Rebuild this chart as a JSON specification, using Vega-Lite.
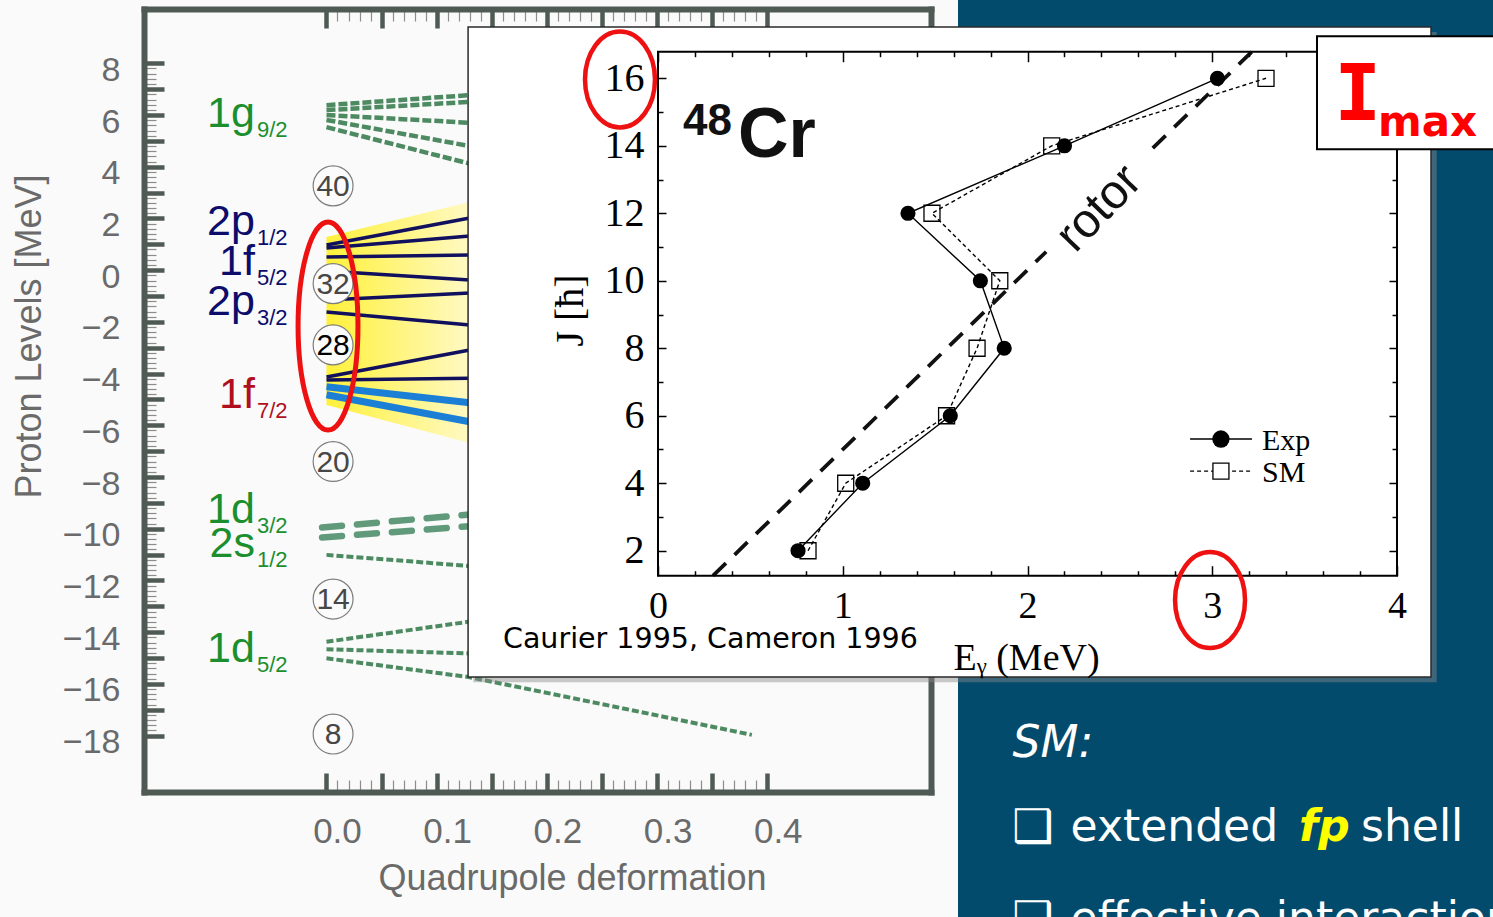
{
  "$schema": "https://vega.github.io/schema/vega-lite/v6.json",
  "width": 1493,
  "height": 917,
  "autosize": {"type": "none"},
  "padding": 0,
  "background": "#fafafa",
  "config": {
    "view": {"stroke": null},
    "axis": {"grid": false, "labelOverlap": false, "labelFlush": false}
  },
  "datasets": {
    "band": [
      {"def": 0, "lo": -5.21, "hi": 1.28},
      {"def": 0.13, "lo": -6.68, "hi": 2.64}
    ],
    "levels": [
      {"group": "g", "line": "g1", "def": 0, "E": 6.38}, {"group": "g", "line": "g1", "def": 0.13, "E": 6.77},
      {"group": "g", "line": "g2", "def": 0, "E": 6.19}, {"group": "g", "line": "g2", "def": 0.13, "E": 6.51},
      {"group": "g", "line": "g3", "def": 0, "E": 6.0}, {"group": "g", "line": "g3", "def": 0.13, "E": 5.7},
      {"group": "g", "line": "g4", "def": 0, "E": 5.81}, {"group": "g", "line": "g4", "def": 0.13, "E": 4.8},
      {"group": "g", "line": "g5", "def": 0, "E": 5.53}, {"group": "g", "line": "g5", "def": 0.13, "E": 4.12},
      {"group": "fp", "line": "n1", "def": 0, "E": 0.97}, {"group": "fp", "line": "n1", "def": 0.13, "E": 2.02},
      {"group": "fp", "line": "n2", "def": 0, "E": 0.86}, {"group": "fp", "line": "n2", "def": 0.13, "E": 1.32},
      {"group": "fp", "line": "n3", "def": 0, "E": 0.51}, {"group": "fp", "line": "n3", "def": 0.13, "E": 0.59},
      {"group": "fp", "line": "n4", "def": 0, "E": -0.03}, {"group": "fp", "line": "n4", "def": 0.13, "E": -0.38},
      {"group": "fp", "line": "n5", "def": 0, "E": -1.15}, {"group": "fp", "line": "n5", "def": 0.13, "E": -0.88},
      {"group": "fp", "line": "n6", "def": 0, "E": -1.62}, {"group": "fp", "line": "n6", "def": 0.13, "E": -2.12},
      {"group": "fp", "line": "n7", "def": 0, "E": -4.13}, {"group": "fp", "line": "n7", "def": 0.13, "E": -3.09},
      {"group": "fp", "line": "n8", "def": 0, "E": -4.25}, {"group": "fp", "line": "n8", "def": 0.13, "E": -4.18},
      {"group": "f7", "line": "b1", "def": 0, "E": -4.51}, {"group": "f7", "line": "b1", "def": 0.13, "E": -5.13},
      {"group": "f7", "line": "b2", "def": 0, "E": -4.82}, {"group": "f7", "line": "b2", "def": 0.13, "E": -5.86},
      {"group": "sdw", "line": "w1", "def": -0.004, "E": -9.95}, {"group": "sdw", "line": "w1", "def": 0.13, "E": -9.45},
      {"group": "sdw", "line": "w2", "def": -0.004, "E": -10.34}, {"group": "sdw", "line": "w2", "def": 0.13, "E": -9.9},
      {"group": "sd", "line": "d1", "def": 0, "E": -11.01}, {"group": "sd", "line": "d1", "def": 0.13, "E": -11.44},
      {"group": "sd", "line": "d2", "def": 0, "E": -14.37}, {"group": "sd", "line": "d2", "def": 0.13, "E": -13.59},
      {"group": "sd", "line": "d3", "def": 0, "E": -14.66}, {"group": "sd", "line": "d3", "def": 0.13, "E": -14.82},
      {"group": "sd", "line": "d4", "def": 0, "E": -15.01}, {"group": "sd", "line": "d4", "def": 0.13, "E": -15.74},
      {"group": "sd", "line": "d4", "def": 0.25, "E": -16.78}, {"group": "sd", "line": "d4", "def": 0.386, "E": -17.97}
    ],
    "magic": [
      {"n": 40, "E": 3.26}, {"n": 32, "E": -0.52}, {"n": 28, "E": -2.89},
      {"n": 20, "E": -7.4}, {"n": 14, "E": -12.72}, {"n": 8, "E": -17.94}
    ],
    "labels": [
      {"orb": "1g", "sub": "9/2", "shell": "g", "E": 5.54},
      {"orb": "2p", "sub": "1/2", "shell": "fp", "E": 1.36},
      {"orb": "1f", "sub": "5/2", "shell": "fp", "E": -0.19},
      {"orb": "2p", "sub": "3/2", "shell": "fp", "E": -1.73},
      {"orb": "1f", "sub": "7/2", "shell": "f7", "E": -5.33},
      {"orb": "1d", "sub": "3/2", "shell": "sd", "E": -9.78},
      {"orb": "2s", "sub": "1/2", "shell": "sd", "E": -11.09},
      {"orb": "1d", "sub": "5/2", "shell": "sd", "E": -15.15}
    ],
    "cr48": [
      {"series": "Exp", "J": 2, "E": 0.758}, {"series": "Exp", "J": 4, "E": 1.108},
      {"series": "Exp", "J": 6, "E": 1.582}, {"series": "Exp", "J": 8, "E": 1.874},
      {"series": "Exp", "J": 10, "E": 1.745}, {"series": "Exp", "J": 12, "E": 1.353},
      {"series": "Exp", "J": 14, "E": 2.2}, {"series": "Exp", "J": 16, "E": 3.028},
      {"series": "SM", "J": 2, "E": 0.812}, {"series": "SM", "J": 4, "E": 1.016},
      {"series": "SM", "J": 6, "E": 1.562}, {"series": "SM", "J": 8, "E": 1.727},
      {"series": "SM", "J": 10, "E": 1.85}, {"series": "SM", "J": 12, "E": 1.483},
      {"series": "SM", "J": 14, "E": 2.131}, {"series": "SM", "J": 16, "E": 3.291}
    ],
    "rotor": [
      {"seg": "lower", "E": 0.298, "J": 1.26}, {"seg": "lower", "E": 2.101, "J": 10.86},
      {"seg": "upper", "E": 2.678, "J": 13.93}, {"seg": "upper", "E": 3.215, "J": 16.79}
    ]
  },
  "resolve": {"scale": {"x": "independent", "y": "independent"}, "axis": {"x": "independent", "y": "independent"}},
  "layer": [
    {
      "resolve": {"axis": {"x": "independent", "y": "independent"}},
      "layer": [
        {
          "data": {"name": "band"},
          "mark": {"type": "area", "color": {"gradient": "linear", "x1": 0, "x2": 1, "y1": 0, "y2": 0, "stops": [{"offset": 0, "color": "#fff13a"}, {"offset": 1, "color": "#fff9c4"}]}},
          "encoding": {
            "x": {"field": "def", "type": "quantitative",
              "scale": {"domain": [-0.1656, 0.5486], "range": [144, 931], "nice": false, "zero": false},
              "axis": {
                "orient": "bottom", "offset": -125, "zindex": 0,
                "values": [0,0.01,0.02,0.03,0.04,0.05,0.06,0.07,0.08,0.09,0.1,0.11,0.12,0.13,0.14,0.15,0.16,0.17,0.18,0.19,0.2,0.21,0.22,0.23,0.24,0.25,0.26,0.27,0.28,0.29,0.3,0.31,0.32,0.33,0.34,0.35,0.36,0.37,0.38,0.39,0.4],
                "domainColor": "#4f5a54", "domainWidth": 6, "domainCap": "square",
                "tickColor": {"condition": {"test": "round(datum.value*100) % 5 === 0", "value": "#4f5a54"}, "value": "#8c8c8c"},
                "tickSize": {"condition": {"test": "round(datum.value*100) % 5 === 0", "value": -19}, "value": -12},
                "tickWidth": {"condition": {"test": "round(datum.value*100) % 5 === 0", "value": 4.5}, "value": 1.2},
                "labelExpr": "round(datum.value*100) % 10 === 0 ? format(datum.value, '.1f') : ''",
                "labelFont": "Liberation Sans", "labelFontSize": 35, "labelColor": "#6a6a6a",
                "labelPadding": 41, "labelOffset": 10.5,
                "title": "Quadrupole deformation", "titleFont": "Liberation Sans", "titleFontSize": 36,
                "titleFontWeight": "normal", "titleColor": "#6a6a6a", "titleX": 572, "titleY": 97,
                "titleAlign": "center", "titleBaseline": "alphabetic"
              }
            },
            "y": {"field": "hi", "type": "quantitative",
              "scale": {"domain": [-20.18, 10.1], "range": [792, 9], "nice": false, "zero": false},
              "axis": {
                "orient": "left", "offset": -144, "zindex": 0,
                "values": [-18,-17.8,-17.6,-17.4,-17.2,-17,-16.8,-16.6,-16.4,-16.2,-16,-15.8,-15.6,-15.4,-15.2,-15,-14.8,-14.6,-14.4,-14.2,-14,-13.8,-13.6,-13.4,-13.2,-13,-12.8,-12.6,-12.4,-12.2,-12,-11.8,-11.6,-11.4,-11.2,-11,-10.8,-10.6,-10.4,-10.2,-10,-9.8,-9.6,-9.4,-9.2,-9,-8.8,-8.6,-8.4,-8.2,-8,-7.8,-7.6,-7.4,-7.2,-7,-6.8,-6.6,-6.4,-6.2,-6,-5.8,-5.6,-5.4,-5.2,-5,-4.8,-4.6,-4.4,-4.2,-4,-3.8,-3.6,-3.4,-3.2,-3,-2.8,-2.6,-2.4,-2.2,-2,-1.8,-1.6,-1.4,-1.2,-1,-0.8,-0.6,-0.4,-0.2,0,0.2,0.4,0.6,0.8,1,1.2,1.4,1.6,1.8,2,2.2,2.4,2.6,2.8,3,3.2,3.4,3.6,3.8,4,4.2,4.4,4.6,4.8,5,5.2,5.4,5.6,5.8,6,6.2,6.4,6.6,6.8,7,7.2,7.4,7.6,7.8,8],
                "domainColor": "#4f5a54", "domainWidth": 6, "domainCap": "square",
                "tickColor": {"condition": {"test": "datum.value % 1 === 0", "value": "#4f5a54"}, "value": "#8c8c8c"},
                "tickSize": {"condition": {"test": "datum.value % 1 === 0", "value": -20}, "value": -12},
                "tickWidth": {"condition": {"test": "datum.value % 1 === 0", "value": 4.5}, "value": 1.2},
                "labelExpr": "datum.value % 2 === 0 ? format(datum.value, 'd') : ''",
                "labelFont": "Liberation Sans", "labelFontSize": 34, "labelColor": "#6a6a6a",
                "labelPadding": 44, "labelOffset": 7,
                "title": "Proton Levels [MeV]", "titleFont": "Liberation Sans", "titleFontSize": 36,
                "titleFontWeight": "normal", "titleColor": "#6a6a6a", "titleAngle": 270,
                "titleX": -104, "titleY": 336, "titleAlign": "center", "titleBaseline": "alphabetic"
              }
            },
            "y2": {"field": "lo"}
          }
        },
        {
          "data": {"name": "levels"},
          "transform": [{"filter": "datum.group === 'g'"}],
          "mark": {"type": "line", "color": "#4d8a62", "strokeWidth": 4.5, "strokeDash": [9, 3]},
          "encoding": {
            "x": {"field": "def", "type": "quantitative",
              "axis": {
                "orient": "top", "offset": -9, "zindex": 0,
                "values": [0,0.01,0.02,0.03,0.04,0.05,0.06,0.07,0.08,0.09,0.1,0.11,0.12,0.13,0.14,0.15,0.16,0.17,0.18,0.19,0.2,0.21,0.22,0.23,0.24,0.25,0.26,0.27,0.28,0.29,0.3,0.31,0.32,0.33,0.34,0.35,0.36,0.37,0.38,0.39,0.4],
                "domainColor": "#4f5a54", "domainWidth": 6, "domainCap": "square",
                "tickColor": {"condition": {"test": "round(datum.value*100) % 5 === 0", "value": "#4f5a54"}, "value": "#8c8c8c"},
                "tickSize": {"condition": {"test": "round(datum.value*100) % 5 === 0", "value": -19}, "value": -12},
                "tickWidth": {"condition": {"test": "round(datum.value*100) % 5 === 0", "value": 4.5}, "value": 1.2},
                "labels": false, "title": null
              }
            },
            "y": {"field": "E", "type": "quantitative",
              "axis": {
                "orient": "right", "offset": -562, "zindex": 0,
                "ticks": false, "labels": false, "title": null,
                "domainColor": "#4f5a54", "domainWidth": 6, "domainCap": "square"
              }
            },
            "detail": {"field": "line"}
          }
        },
        {
          "data": {"name": "levels"},
          "transform": [{"filter": "datum.group === 'fp'"}],
          "mark": {"type": "line", "color": "#10105e", "strokeWidth": 3.5},
          "encoding": {
            "x": {"field": "def", "type": "quantitative", "axis": null},
            "y": {"field": "E", "type": "quantitative", "axis": null},
            "detail": {"field": "line"}
          }
        },
        {
          "data": {"name": "levels"},
          "transform": [{"filter": "datum.group === 'f7'"}],
          "mark": {"type": "line", "color": "#1c7fd6", "strokeWidth": 7},
          "encoding": {
            "x": {"field": "def", "type": "quantitative", "axis": null},
            "y": {"field": "E", "type": "quantitative", "axis": null},
            "detail": {"field": "line"}
          }
        },
        {
          "data": {"name": "levels"},
          "transform": [{"filter": "datum.group === 'sdw'"}],
          "mark": {"type": "line", "color": "#609a7a", "strokeWidth": 6.5, "strokeDash": [20, 15], "strokeCap": "round"},
          "encoding": {
            "x": {"field": "def", "type": "quantitative", "axis": null},
            "y": {"field": "E", "type": "quantitative", "axis": null},
            "detail": {"field": "line"}
          }
        },
        {
          "data": {"name": "levels"},
          "transform": [{"filter": "datum.group === 'sd'"}],
          "mark": {"type": "line", "color": "#4d8a62", "strokeWidth": 4, "strokeDash": [7, 3]},
          "encoding": {
            "x": {"field": "def", "type": "quantitative", "axis": null},
            "y": {"field": "E", "type": "quantitative", "axis": null},
            "detail": {"field": "line"}
          }
        },
        {
          "data": {"name": "magic"},
          "mark": {"type": "point", "shape": "circle", "filled": true, "fill": "#fbfbfb", "stroke": "#7d7d7d", "strokeWidth": 1.2, "size": 1590, "opacity": 1},
          "encoding": {
            "x": {"datum": 0.006, "type": "quantitative", "axis": null},
            "y": {"field": "E", "type": "quantitative", "axis": null}
          }
        },
        {
          "data": {"name": "magic"},
          "mark": {"type": "text", "font": "Liberation Sans", "fontSize": 30, "align": "center", "baseline": "middle", "dy": 1},
          "encoding": {
            "x": {"datum": 0.006, "type": "quantitative", "axis": null},
            "y": {"field": "E", "type": "quantitative", "axis": null},
            "text": {"field": "n"},
            "color": {"condition": {"test": "datum.n === 28", "value": "#000000"}, "value": "#474747"}
          }
        },
        {
          "data": {"name": "labels"},
          "mark": {"type": "text", "font": "Liberation Sans", "fontSize": 43, "align": "right", "baseline": "alphabetic"},
          "encoding": {
            "x": {"datum": -0.0649, "type": "quantitative", "axis": null},
            "y": {"field": "E", "type": "quantitative", "axis": null},
            "text": {"field": "orb"},
            "color": {"field": "shell", "type": "nominal", "legend": null,
              "scale": {"domain": ["g", "fp", "f7", "sd"], "range": ["#1b8f2e", "#0c0c6a", "#b0101e", "#1b8f2e"]}}
          }
        },
        {
          "data": {"name": "labels"},
          "mark": {"type": "text", "font": "Liberation Sans", "fontSize": 22, "align": "left", "baseline": "alphabetic", "dy": 10},
          "encoding": {
            "x": {"datum": -0.0631, "type": "quantitative", "axis": null},
            "y": {"field": "E", "type": "quantitative", "axis": null},
            "text": {"field": "sub"},
            "color": {"field": "shell", "type": "nominal", "legend": null}
          }
        },
        {
          "data": {"values": [{}]},
          "mark": {"type": "point", "shape": "M0,-1C0.159,-1 0.288,-0.552 0.288,0C0.288,0.552 0.159,1 0,1C-0.159,1 -0.288,0.552 -0.288,0C-0.288,-0.552 -0.159,-1 0,-1Z", "size": 43264, "filled": false, "color": "#ee1111", "strokeWidth": 5, "opacity": 1},
          "encoding": {
            "x": {"datum": 0.0014, "type": "quantitative", "axis": null},
            "y": {"datum": -2.16, "type": "quantitative", "axis": null}
          }
        }
      ]
    },
    {
      "layer": [
        {
          "data": {"values": [{}]},
          "mark": {"type": "rect", "color": "#034b6c"},
          "encoding": {
            "x": {"datum": 0, "type": "quantitative", "scale": {"domain": [0, 1], "range": [958, 1493], "nice": false, "zero": false}, "axis": null},
            "x2": {"datum": 1},
            "y": {"datum": 0, "type": "quantitative", "scale": {"domain": [0, 1], "range": [0, 917], "nice": false, "zero": false}, "axis": null},
            "y2": {"datum": 1}
          }
        },
        {
          "data": {"values": [{}]},
          "mark": {"type": "text", "text": "SM:", "font": "DejaVu Sans", "fontStyle": "italic", "fontSize": 44, "color": "white", "align": "left", "baseline": "alphabetic"},
          "encoding": {
            "x": {"datum": 0.102, "type": "quantitative", "axis": null},
            "y": {"datum": 0.8255, "type": "quantitative", "axis": null}
          }
        },
        {
          "data": {"values": [{}]},
          "mark": {"type": "text", "text": "❑", "font": "DejaVu Sans", "fontSize": 46, "color": "white", "align": "left", "baseline": "alphabetic"},
          "encoding": {
            "x": {"datum": 0.101, "type": "quantitative", "axis": null},
            "y": {"datum": 0.918, "type": "quantitative", "axis": null}
          }
        },
        {
          "data": {"values": [{}]},
          "mark": {"type": "text", "text": "extended", "font": "DejaVu Sans", "fontSize": 44, "color": "white", "align": "left", "baseline": "alphabetic"},
          "encoding": {
            "x": {"datum": 0.2105, "type": "quantitative", "axis": null},
            "y": {"datum": 0.917, "type": "quantitative", "axis": null}
          }
        },
        {
          "data": {"values": [{}]},
          "mark": {"type": "text", "text": "fp", "font": "DejaVu Sans", "fontStyle": "italic", "fontWeight": "bold", "fontSize": 44, "color": "#ffff00", "align": "left", "baseline": "alphabetic"},
          "encoding": {
            "x": {"datum": 0.6374, "type": "quantitative", "axis": null},
            "y": {"datum": 0.917, "type": "quantitative", "axis": null}
          }
        },
        {
          "data": {"values": [{}]},
          "mark": {"type": "text", "text": "shell", "font": "DejaVu Sans", "fontSize": 44, "color": "white", "align": "left", "baseline": "alphabetic"},
          "encoding": {
            "x": {"datum": 0.7533, "type": "quantitative", "axis": null},
            "y": {"datum": 0.917, "type": "quantitative", "axis": null}
          }
        },
        {
          "data": {"values": [{}]},
          "mark": {"type": "text", "text": "❑", "font": "DejaVu Sans", "fontSize": 46, "color": "white", "align": "left", "baseline": "alphabetic"},
          "encoding": {
            "x": {"datum": 0.101, "type": "quantitative", "axis": null},
            "y": {"datum": 1.018, "type": "quantitative", "axis": null}
          }
        },
        {
          "data": {"values": [{}]},
          "mark": {"type": "text", "text": "effective interaction", "font": "DejaVu Sans", "fontSize": 44, "color": "white", "align": "left", "baseline": "alphabetic"},
          "encoding": {
            "x": {"datum": 0.2105, "type": "quantitative", "axis": null},
            "y": {"datum": 1.017, "type": "quantitative", "axis": null}
          }
        }
      ]
    },
    {
      "resolve": {"axis": {"x": "independent", "y": "independent"}},
      "layer": [
        {
          "data": {"values": [{}]},
          "mark": {"type": "rect", "color": "#8a8a8a", "opacity": 0.45},
          "encoding": {
            "x": {"datum": -1.0, "type": "quantitative",
              "scale": {"domain": [0, 4], "range": [658, 1397], "nice": false, "zero": false},
              "axis": {
                "orient": "bottom", "offset": -341.3, "zindex": 1, "domain": false,
                "values": [0,0.2,0.4,0.6,0.8,1,1.2,1.4,1.6,1.8,2,2.2,2.4,2.6,2.8,3,3.2,3.4,3.6,3.8,4],
                "tickColor": "black", "tickWidth": 1.5,
                "tickSize": {"condition": {"test": "datum.value % 1 === 0", "value": -10}, "value": -5},
                "labelExpr": "datum.value % 1 === 0 ? format(datum.value, 'd') : ''",
                "labelFont": "Liberation Serif", "labelFontSize": 38, "labelColor": "black", "labelPadding": 22,
                "title": "Eᵧ (MeV)", "titleFont": "Liberation Serif", "titleFontSize": 38, "titleFontWeight": "normal",
                "titleColor": "black", "titleX": 1026, "titleY": 94, "titleAlign": "center", "titleBaseline": "alphabetic"
              }
            },
            "x2": {"datum": 4.215},
            "y": {"datum": -1.9, "type": "quantitative",
              "scale": {"domain": [1.26, 16.788], "range": [575.7, 51.7], "nice": false, "zero": false},
              "axis": {
                "orient": "left", "offset": -658, "zindex": 1, "domain": false,
                "values": [2,3,4,5,6,7,8,9,10,11,12,13,14,15,16],
                "tickColor": "black", "tickWidth": 1.5,
                "tickSize": {"condition": {"test": "datum.value % 2 === 0", "value": -8}, "value": -5},
                "labelExpr": "datum.value % 2 === 0 ? format(datum.value, 'd') : ''",
                "labelFont": "Liberation Serif", "labelFontSize": 40, "labelColor": "black", "labelPadding": 22,
                "title": "J [ħ]", "titleFont": "Liberation Serif", "titleFontSize": 40, "titleFontWeight": "normal",
                "titleColor": "black", "titleAngle": 270, "titleX": -76, "titleY": 310, "titleAlign": "center", "titleBaseline": "alphabetic"
              }
            },
            "y2": {"datum": 17.37}
          }
        },
        {
          "data": {"values": [{}]},
          "mark": {"type": "rect", "fill": "white", "stroke": "#2a2a2a", "strokeWidth": 1.5},
          "encoding": {
            "x": {"datum": -1.028, "type": "quantitative", "axis": null},
            "x2": {"datum": 4.184},
            "y": {"datum": -1.743, "type": "quantitative", "axis": null},
            "y2": {"datum": 17.52}
          }
        },
        {
          "data": {"name": "rotor"},
          "mark": {"type": "line", "color": "#111111", "strokeWidth": 3.8, "strokeDash": [18, 12]},
          "encoding": {
            "x": {"field": "E", "type": "quantitative",
              "axis": {
                "orient": "top", "offset": -51.7, "zindex": 1, "domain": false, "labels": false, "title": null,
                "values": [0,0.2,0.4,0.6,0.8,1,1.2,1.4,1.6,1.8,2,2.2,2.4,2.6,2.8,3,3.2,3.4],
                "tickColor": "black", "tickWidth": 1.5,
                "tickSize": {"condition": {"test": "datum.value % 1 === 0", "value": -10}, "value": -5}
              }
            },
            "y": {"field": "J", "type": "quantitative",
              "axis": {
                "orient": "right", "offset": -96, "zindex": 1, "domain": false, "labels": false, "title": null,
                "values": [2,3,4,5,6,7,8,9,10,11,12,13],
                "tickColor": "black", "tickWidth": 1.5,
                "tickSize": {"condition": {"test": "datum.value % 2 === 0", "value": -8}, "value": -5}
              }
            },
            "detail": {"field": "seg"}
          }
        },
        {
          "data": {"name": "cr48"},
          "transform": [{"filter": "datum.series === 'Exp'"}],
          "mark": {"type": "line", "color": "black", "strokeWidth": 1.4},
          "encoding": {
            "x": {"field": "E", "type": "quantitative", "axis": null},
            "y": {"field": "J", "type": "quantitative", "axis": null},
            "order": {"field": "J", "type": "quantitative"}
          }
        },
        {
          "data": {"name": "cr48"},
          "transform": [{"filter": "datum.series === 'SM'"}],
          "mark": {"type": "line", "color": "black", "strokeWidth": 1.4, "strokeDash": [4, 3]},
          "encoding": {
            "x": {"field": "E", "type": "quantitative", "axis": null},
            "y": {"field": "J", "type": "quantitative", "axis": null},
            "order": {"field": "J", "type": "quantitative"}
          }
        },
        {
          "data": {"name": "cr48"},
          "transform": [{"filter": "datum.series === 'SM'"}],
          "mark": {"type": "point", "shape": "square", "filled": false, "color": "black", "strokeWidth": 1.3, "size": 256, "opacity": 1},
          "encoding": {
            "x": {"field": "E", "type": "quantitative", "axis": null},
            "y": {"field": "J", "type": "quantitative", "axis": null}
          }
        },
        {
          "data": {"name": "cr48"},
          "transform": [{"filter": "datum.series === 'Exp'"}],
          "mark": {"type": "point", "shape": "circle", "filled": true, "color": "black", "size": 230, "opacity": 1},
          "encoding": {
            "x": {"field": "E", "type": "quantitative", "axis": null},
            "y": {"field": "J", "type": "quantitative", "axis": null}
          }
        },
        {
          "data": {"values": [{}]},
          "mark": {"type": "rect", "fillOpacity": 0, "stroke": "black", "strokeWidth": 2},
          "encoding": {
            "x": {"datum": 0, "type": "quantitative", "axis": null},
            "x2": {"datum": 4},
            "y": {"datum": 1.26, "type": "quantitative", "axis": null},
            "y2": {"datum": 16.788}
          }
        },
        {
          "data": {"values": [{}]},
          "mark": {"type": "text", "text": "48", "font": "Liberation Sans", "fontWeight": "bold", "fontSize": 44, "color": "#111111", "align": "left", "baseline": "alphabetic"},
          "encoding": {
            "x": {"datum": 0.135, "type": "quantitative", "axis": null},
            "y": {"datum": 14.317, "type": "quantitative", "axis": null}
          }
        },
        {
          "data": {"values": [{}]},
          "mark": {"type": "text", "text": "Cr", "font": "Liberation Sans", "fontWeight": "bold", "fontSize": 70, "color": "#111111", "align": "left", "baseline": "alphabetic"},
          "encoding": {
            "x": {"datum": 0.433, "type": "quantitative", "axis": null},
            "y": {"datum": 13.659, "type": "quantitative", "axis": null}
          }
        },
        {
          "data": {"values": [{}]},
          "mark": {"type": "text", "text": "rotor", "font": "Liberation Sans", "fontSize": 48, "color": "#111111", "align": "center", "baseline": "middle", "angle": 314},
          "encoding": {
            "x": {"datum": 2.39, "type": "quantitative", "axis": null},
            "y": {"datum": 12.133, "type": "quantitative", "axis": null}
          }
        },
        {
          "data": {"values": [{}]},
          "mark": {"type": "text", "text": "Caurier 1995, Cameron 1996", "font": "DejaVu Sans", "fontSize": 28.5, "color": "black", "align": "left", "baseline": "alphabetic"},
          "encoding": {
            "x": {"datum": -0.839, "type": "quantitative", "axis": null},
            "y": {"datum": -0.883, "type": "quantitative", "axis": null}
          }
        },
        {
          "data": {"values": [{}]},
          "mark": {"type": "rule", "color": "black", "strokeWidth": 1.4},
          "encoding": {
            "x": {"datum": 2.88, "type": "quantitative", "axis": null},
            "x2": {"datum": 3.215},
            "y": {"datum": 5.31, "type": "quantitative", "axis": null}
          }
        },
        {
          "data": {"values": [{}]},
          "mark": {"type": "point", "shape": "circle", "filled": true, "color": "black", "size": 300, "opacity": 1},
          "encoding": {
            "x": {"datum": 3.047, "type": "quantitative", "axis": null},
            "y": {"datum": 5.31, "type": "quantitative", "axis": null}
          }
        },
        {
          "data": {"values": [{}]},
          "mark": {"type": "text", "text": "Exp", "font": "Liberation Serif", "fontSize": 30, "color": "black", "align": "left", "baseline": "alphabetic"},
          "encoding": {
            "x": {"datum": 3.269, "type": "quantitative", "axis": null},
            "y": {"datum": 4.98, "type": "quantitative", "axis": null}
          }
        },
        {
          "data": {"values": [{}]},
          "mark": {"type": "rule", "color": "black", "strokeWidth": 1.4, "strokeDash": [4, 3]},
          "encoding": {
            "x": {"datum": 2.88, "type": "quantitative", "axis": null},
            "x2": {"datum": 3.215},
            "y": {"datum": 4.36, "type": "quantitative", "axis": null}
          }
        },
        {
          "data": {"values": [{}]},
          "mark": {"type": "point", "shape": "square", "filled": true, "fill": "white", "stroke": "black", "strokeWidth": 1.3, "size": 256, "opacity": 1},
          "encoding": {
            "x": {"datum": 3.047, "type": "quantitative", "axis": null},
            "y": {"datum": 4.36, "type": "quantitative", "axis": null}
          }
        },
        {
          "data": {"values": [{}]},
          "mark": {"type": "text", "text": "SM", "font": "Liberation Serif", "fontSize": 30, "color": "black", "align": "left", "baseline": "alphabetic"},
          "encoding": {
            "x": {"datum": 3.269, "type": "quantitative", "axis": null},
            "y": {"datum": 4.04, "type": "quantitative", "axis": null}
          }
        },
        {
          "data": {"values": [{}]},
          "mark": {"type": "rect", "fill": "white", "stroke": "black", "strokeWidth": 2},
          "encoding": {
            "x": {"datum": 3.567, "type": "quantitative", "axis": null},
            "x2": {"datum": 4.62},
            "y": {"datum": 13.896, "type": "quantitative", "axis": null},
            "y2": {"datum": 17.245}
          }
        },
        {
          "data": {"values": [{}]},
          "mark": {"type": "text", "text": "I", "font": "DejaVu Sans Mono", "fontWeight": "bold", "fontSize": 78, "color": "#ff0000", "align": "left", "baseline": "alphabetic"},
          "encoding": {
            "x": {"datum": 3.66, "type": "quantitative", "axis": null},
            "y": {"datum": 14.755, "type": "quantitative", "axis": null}
          }
        },
        {
          "data": {"values": [{}]},
          "mark": {"type": "text", "text": "max", "font": "DejaVu Sans", "fontWeight": "bold", "fontSize": 42, "color": "#ff0000", "align": "left", "baseline": "alphabetic"},
          "encoding": {
            "x": {"datum": 3.897, "type": "quantitative", "axis": null},
            "y": {"datum": 14.28, "type": "quantitative", "axis": null}
          }
        },
        {
          "data": {"values": [{}]},
          "mark": {"type": "point", "shape": "M0,-1C0.403,-1 0.729,-0.552 0.729,0C0.729,0.552 0.403,1 0,1C-0.403,1 -0.729,0.552 -0.729,0C-0.729,-0.552 -0.403,-1 0,-1Z", "size": 9216, "filled": false, "color": "#ee1111", "strokeWidth": 4.5, "opacity": 1},
          "encoding": {
            "x": {"datum": -0.2057, "type": "quantitative", "axis": null},
            "y": {"datum": 15.964, "type": "quantitative", "axis": null}
          }
        },
        {
          "data": {"values": [{}]},
          "mark": {"type": "point", "shape": "M0,-1C0.403,-1 0.729,-0.552 0.729,0C0.729,0.552 0.403,1 0,1C-0.403,1 -0.729,0.552 -0.729,0C-0.729,-0.552 -0.403,-1 0,-1Z", "size": 9216, "filled": false, "color": "#ee1111", "strokeWidth": 4.5, "opacity": 1},
          "encoding": {
            "x": {"datum": 2.988, "type": "quantitative", "axis": null},
            "y": {"datum": 0.539, "type": "quantitative", "axis": null}
          }
        }
      ]
    }
  ]
}
